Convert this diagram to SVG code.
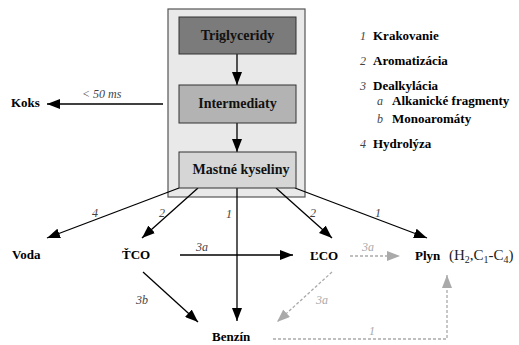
<svg xmlns="http://www.w3.org/2000/svg" width="519" height="345" viewBox="0 0 519 345">
<defs>
<marker id="ah" markerUnits="userSpaceOnUse" markerWidth="14" markerHeight="10" refX="13" refY="5" orient="auto">
<path d="M0,0 L13,5 L0,10 z" fill="#000"/>
</marker>
<marker id="ahg" markerUnits="userSpaceOnUse" markerWidth="14" markerHeight="10" refX="13" refY="5" orient="auto">
<path d="M0,0 L13,5 L0,10 z" fill="#aaa"/>
</marker>
</defs>
<style>
.ln{stroke:#000;stroke-width:1.3;fill:none;marker-end:url(#ah)}
.dl{stroke:#aaa;stroke-width:1.3;fill:none;stroke-dasharray:3,2;marker-end:url(#ahg)}
.nb{stroke:#333;stroke-width:1}
.lbl{font-family:"Liberation Serif","Times New Roman",serif;font-weight:bold;font-size:13px;fill:#000}
.box{font-family:"Liberation Serif","Times New Roman",serif;font-weight:bold;font-size:14px;fill:#111}
.num{font-family:"Liberation Serif","Times New Roman",serif;font-style:italic;font-size:12px;fill:#444}
.numg{font-family:"Liberation Serif","Times New Roman",serif;font-style:italic;font-size:12px;fill:#aaa}
</style>
<rect width="519" height="345" fill="#fff"/>
<g id="container">
<rect x="168" y="9" width="137" height="188" fill="#e9e9e9" stroke="#555" stroke-width="1.2"/>
</g>
<g id="connectors">
<line class="ln" x1="237" y1="54" x2="237" y2="85"/>
<line class="ln" x1="237" y1="123" x2="237" y2="152"/>
<line class="ln" x1="163" y1="104" x2="47" y2="104"/>
<line class="ln" x1="179" y1="188" x2="47" y2="238"/>
<line class="ln" x1="198" y1="188" x2="142" y2="238"/>
<line class="ln" x1="237" y1="188" x2="237" y2="321"/>
<line class="ln" x1="276" y1="188" x2="332" y2="238"/>
<line class="ln" x1="295" y1="188" x2="427" y2="238"/>
<line class="ln" x1="180" y1="255" x2="293" y2="255"/>
<line class="ln" x1="143" y1="272" x2="198" y2="322"/>
<line class="dl" x1="350" y1="256" x2="400" y2="256"/>
<line class="dl" x1="332" y1="272" x2="277" y2="322"/>
<polyline class="dl" points="273,339 447,339 447,275"/>
<text class="num" x="82" y="98">&lt; 50 ms</text>
<text class="num" x="92" y="217">4</text>
<text class="num" x="159" y="217">2</text>
<text class="num" x="226" y="218">1</text>
<text class="num" x="310" y="217">2</text>
<text class="num" x="375" y="217">1</text>
<text class="num" x="196" y="251">3a</text>
<text class="num" x="136" y="304">3b</text>
<text class="numg" x="362" y="251">3a</text>
<text class="numg" x="316" y="304">3a</text>
<text class="numg" x="369" y="335">1</text>
</g>
<g id="triglyceridy">
<rect class="nb" x="179" y="17" width="117" height="37" fill="#7b7b7b"/>
<text class="box" x="237.5" y="40" text-anchor="middle">Triglyceridy</text>
</g>
<g id="intermediaty">
<rect class="nb" x="179" y="85" width="117" height="38" fill="#b3b3b3"/>
<text class="box" x="237.5" y="108" text-anchor="middle">Intermediaty</text>
</g>
<g id="mastne">
<rect class="nb" x="179" y="152" width="117" height="36" fill="#d6d6d6"/>
<text class="box" x="241" y="174" text-anchor="middle">Mastné kyseliny</text>
</g>
<g id="koks"><text class="lbl" x="11" y="107">Koks</text></g>
<g id="voda"><text class="lbl" x="12" y="259">Voda</text></g>
<g id="tco"><text class="lbl" x="122" y="259">ŤCO</text></g>
<g id="lco"><text class="lbl" x="310" y="260">ĽCO</text></g>
<g id="benzin"><text class="lbl" x="212" y="341">Benzín</text></g>
<g id="plyn">
<text class="lbl" x="415" y="260">Plyn</text>
<text x="449" y="260" font-size="15" fill="#222" font-family="Liberation Serif, serif">(H<tspan font-size="10" dy="3">2</tspan><tspan dy="-3">,C</tspan><tspan font-size="10" dy="3">1</tspan><tspan dy="-3">-C</tspan><tspan font-size="10" dy="3">4</tspan><tspan dy="-3">)</tspan></text>
</g>
<g id="legend">
<text class="num" x="360" y="40">1</text><text class="lbl" x="373" y="40">Krakovanie</text>
<text class="num" x="360" y="65">2</text><text class="lbl" x="373" y="65">Aromatizácia</text>
<text class="num" x="360" y="90">3</text><text class="lbl" x="373" y="90">Dealkylácia</text>
<text class="num" x="377" y="105">a</text><text class="lbl" x="392" y="105">Alkanické fragmenty</text>
<text class="num" x="377" y="123">b</text><text class="lbl" x="392" y="123">Monoaromáty</text>
<text class="num" x="360" y="148">4</text><text class="lbl" x="373" y="148">Hydrolýza</text>
</g>
</svg>
